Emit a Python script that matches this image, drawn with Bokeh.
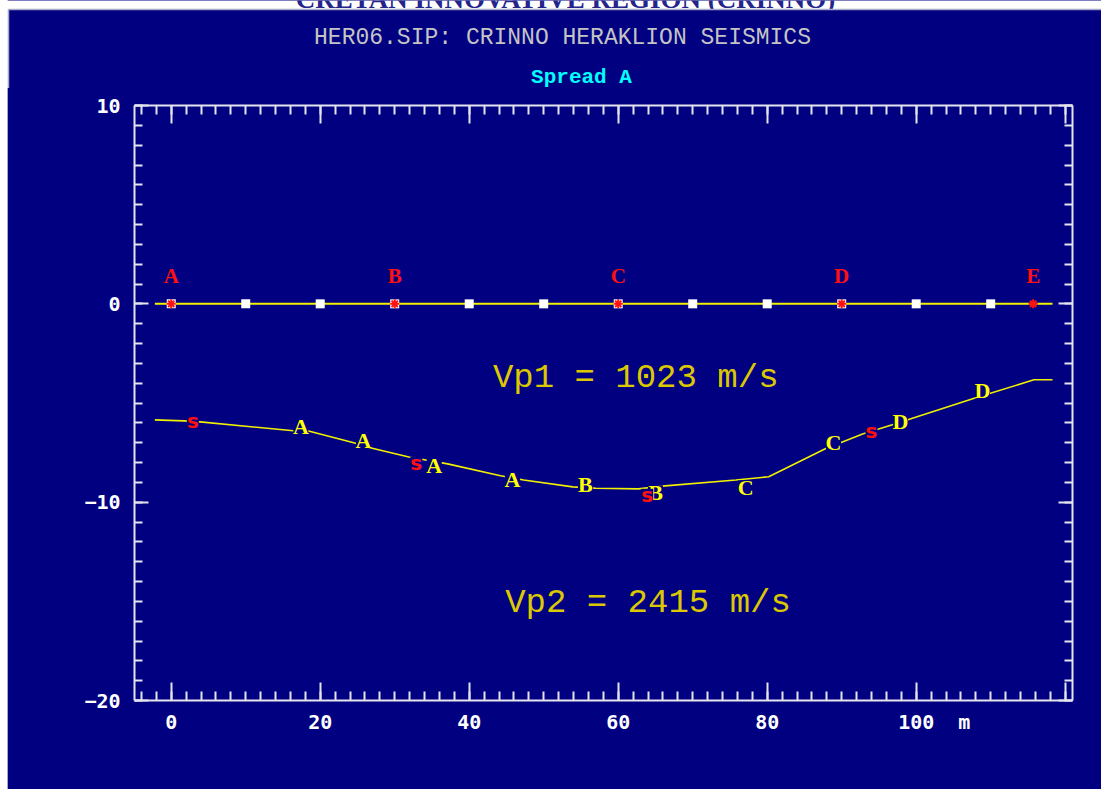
from bokeh.plotting import figure
from bokeh.models import Range1d, FixedTicker, LinearAxis, Spacer
from bokeh.layouts import column, row
from bokeh.core.properties import value
from bokeh.embed import file_html
from bokeh.resources import INLINE

# ---------------- data ----------------
receiver_x = [0, 10, 20, 30, 40, 50, 60, 70, 80, 90, 100, 110]
shot_x = [0, 30, 60, 90, 115.7]
shot_labels = ["A", "B", "C", "D", "E"]
surface_x = [-2.2, 118.3]
surface_y = [0, 0]
refractor_x = [-2.2, 1.7, 3.9, 16.4, 18.3, 24.5, 26.7, 31.9, 37.1, 44.2, 47.3, 53.9,
               57.0, 62.7, 66.3, 75.8, 80.2, 87.8, 92.8, 96.8, 108.0, 115.8, 118.3]
refractor_y = [-5.85, -5.9, -5.95, -6.4, -6.4, -7.0, -7.26, -7.72, -8.07, -8.67, -8.88, -9.23,
               -9.3, -9.33, -9.18, -8.88, -8.72, -7.31, -6.56, -6.1, -4.74, -3.83, -3.83]
pick_x = [17.4, 25.8, 35.3, 45.8, 55.6, 65.0, 77.1, 88.9, 97.9, 108.9]
pick_y = [-6.2, -6.9, -8.17, -8.88, -9.13, -9.53, -9.28, -7.0, -5.95, -4.39]
pick_labels = ["A", "A", "A", "A", "B", "B", "C", "C", "D", "D"]
source_x = [2.9, 32.9, 63.9, 94.0]
source_y = [-5.9, -8.0, -9.63, -6.4]
source_labels = ["s", "s", "s", "s"]
velocity_labels = ["Vp1 = 1023 m/s", "Vp2 = 2415 m/s"]
velocity_x = [62.35, 64.0]
velocity_y = [-3.73, -15.1]
x_major = [0, 20, 40, 60, 80, 100, 120]
x_minor = list(range(-4, 121, 2))
y_major = [-20, -10, 0, 10]
y_minor = list(range(-20, 11, 1))
NB = "\u00a0"
x_label_overrides = {100: NB * 3 + "100" + NB * 2 + "m", 120: ""}
title_text = "HER06.SIP: CRINNO HERAKLION SEISMICS"
subtitle_text = "Spread A"
header_text = "CRETAN INNOVATIVE REGION (CRINNO)"

NAVY = "#000080"
AXIS = "#e4e4ee"
EDGE = "#a8a8c8"
YELLOW = "#f0f000"
LABEL_YELLOW = "#ffff00"
RED = "#ff1010"

HEAD_H = 88

# ---------------- header (white strip, titles) ----------------
head = figure(width=1101, height=HEAD_H, x_range=Range1d(0, 1101), y_range=Range1d(HEAD_H, 0),
              output_backend="svg", toolbar_location=None,
              x_axis_location=None, y_axis_location=None,
              min_border=0, background_fill_color="white", border_fill_color="white",
              outline_line_color=None)
head.grid.visible = False
head.text([565], [13], text=[header_text], text_color="#24248c",
          text_font=value("Liberation Serif"), text_font_style="bold", text_font_size="27px",
          text_align="center", text_baseline="bottom")
head.quad(left=[8], right=[1101], top=[9], bottom=[HEAD_H + 2], fill_color=NAVY, line_color=None)
head.line([8, 1101], [9, 9], line_color=EDGE, line_width=1.5)
head.line([8, 8], [9, HEAD_H + 2], line_color=EDGE, line_width=1.5)
head.text([562], [37], text=[title_text], text_color="#c4c4c4",
          text_font=value("Liberation Mono"), text_font_size="23px",
          text_align="center", text_baseline="middle")
head.text([581], [77], text=[subtitle_text], text_color="#00ffff",
          text_font=value("Liberation Mono"), text_font_style="bold", text_font_size="21px",
          text_align="center", text_baseline="middle")

# left strip (page background shows through)
side = Spacer(width=8, height=789 - HEAD_H)

# ---------------- main plot ----------------
p = figure(width=1093, height=789 - HEAD_H, x_range=Range1d(-4.93, 120.98), y_range=Range1d(-20, 10),
           output_backend="svg", toolbar_location=None,
           x_axis_location=None, y_axis_location=None,
           min_border_left=126, min_border_right=29, min_border_top=105 - HEAD_H, min_border_bottom=89,
           background_fill_color=NAVY, border_fill_color=NAVY, outline_line_color=None)
p.grid.visible = False


def make_axis(major, minor, tick_in, minor_in, labels):
    ax = LinearAxis(ticker=FixedTicker(ticks=major, minor_ticks=minor))
    ax.axis_line_color = AXIS
    ax.axis_line_width = 2
    ax.major_tick_line_color = AXIS
    ax.major_tick_line_width = 2
    ax.minor_tick_line_color = AXIS
    ax.minor_tick_line_width = 2
    ax.major_tick_in = tick_in
    ax.major_tick_out = 0
    ax.minor_tick_in = minor_in
    ax.minor_tick_out = 0
    if labels:
        ax.major_label_text_color = "white"
        ax.major_label_text_font = "DejaVu Sans Mono"
        ax.major_label_text_font_style = "bold"
        ax.major_label_text_font_size = "20px"
    else:
        ax.major_label_text_color = None
        ax.major_label_text_font_size = "0px"
        ax.major_label_standoff = 0
    return ax


bottom = make_axis(x_major, x_minor, 18, 9, True)
bottom.major_label_standoff = 9
bottom.major_label_overrides = x_label_overrides
top = make_axis(x_major, x_minor, 18, 9, False)
left = make_axis(y_major, y_minor, 14, 8, True)
left.major_label_standoff = 14
right = make_axis(y_major, y_minor, 14, 8, False)
p.add_layout(bottom, "below")
p.add_layout(top, "above")
p.add_layout(left, "left")
p.add_layout(right, "right")

# surface line, receivers, shots
p.line(surface_x, surface_y, line_color=YELLOW, line_width=2)
p.scatter(receiver_x, [0] * len(receiver_x), marker="square", size=9,
          fill_color="white", line_color=None)
p.scatter(shot_x, [0] * len(shot_x), marker="asterisk", size=9,
          line_color=RED, line_width=2)
p.text(shot_x, [0] * len(shot_x), text=shot_labels, text_color=RED,
       text_font=value("Liberation Serif"), text_font_style="bold", text_font_size="21px",
       text_align="center", text_baseline="middle", y_offset=-28)

# refractor
p.line(refractor_x, refractor_y, line_color=YELLOW, line_width=1.6)
p.scatter(pick_x, pick_y, marker="square", size=15, fill_color=NAVY, line_color=None)
p.text(pick_x, pick_y, text=pick_labels, text_color=LABEL_YELLOW,
       text_font=value("Liberation Serif"), text_font_style="bold", text_font_size="22px",
       text_align="center", text_baseline="middle")
p.scatter(source_x, source_y, marker="square", size=12, fill_color=NAVY, line_color=None)
p.text(source_x, source_y, text=source_labels, text_color=RED,
       text_font=value("DejaVu Sans"), text_font_style="bold", text_font_size="20px",
       text_align="center", text_baseline="middle")

# velocities
p.text(velocity_x, velocity_y, text=velocity_labels, text_color="#dcc800",
       text_font=value("Liberation Mono"), text_font_size="34px",
       text_align="center", text_baseline="middle")

layout = column(head, row(side, p, spacing=0), spacing=0,
                styles={"background": "linear-gradient(to right, #ffffff 7px, " + EDGE + " 7px, "
                        + EDGE + " 8px, " + NAVY + " 8px)"})

open("out.html", "w").write(file_html(layout, INLINE))
